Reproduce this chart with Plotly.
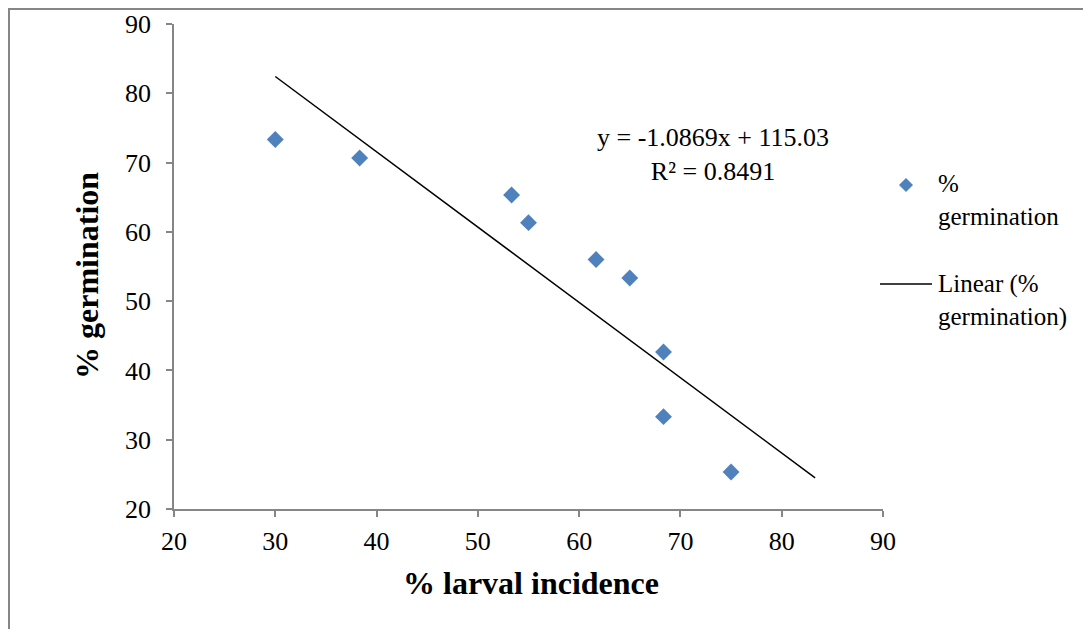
import plotly.graph_objects as go

larval_incidence = [30.0, 38.33, 53.33, 55.0, 61.67, 65.0, 68.33, 68.33, 75.0]
germination = [73.33, 70.67, 65.33, 61.33, 56.0, 53.33, 42.67, 33.33, 25.33]
slope = -1.0869
intercept = 115.03
trend_x = [30.0, 83.3]
trend_y = [slope * v + intercept for v in trend_x]
tick_vals = [20, 30, 40, 50, 60, 70, 80, 90]

OFF = 8  # page body margin
W, H = 1091 - 2 * OFF, 637 - 2 * OFF
L, R, T, B = 174 - OFF, 883 - OFF, 24 - OFF, 509 - OFF
pw, ph = R - L, B - T

def px(x):
    return (x - OFF - L) / pw

def py(y):
    return (B - (y - OFF)) / ph

FONT = "Liberation Serif"

fig = go.Figure()
fig.add_trace(go.Scatter(x=trend_x, y=trend_y, mode="lines",
                         line=dict(color="black", width=1.5), showlegend=False,
                         name="Linear (% germination)"))
fig.add_trace(go.Scatter(x=larval_incidence, y=germination, mode="markers",
                         marker=dict(symbol="diamond", size=13, color="#4F81BD"),
                         showlegend=False, name="% germination"))

axis_common = dict(showgrid=False, zeroline=False, showline=True, linecolor="#868686",
                   linewidth=1.5, ticks="outside", ticklen=6, tickcolor="#868686",
                   tickwidth=1.5, tickfont=dict(family=FONT, size=26, color="black"),
                   range=[20, 90], tickvals=tick_vals, automargin=False)
fig.update_xaxes(**axis_common, ticklabelstandoff=2)
fig.update_yaxes(**axis_common, ticklabelstandoff=10)

shapes = [
    dict(type="rect", xref="paper", yref="paper", x0=px(9), x1=px(1120), y0=py(680), y1=py(9),
         line=dict(color="#868686", width=2), fillcolor="rgba(0,0,0,0)"),
    dict(type="line", xref="paper", yref="paper", x0=px(880), x1=px(932), y0=py(284), y1=py(284),
         line=dict(color="black", width=1.5)),
    dict(type="path", xref="paper", yref="paper",
         path="M {a},{b} L {c},{d} L {a},{e} L {f},{d} Z".format(
             a=px(906), b=py(178), c=px(913), d=py(185), e=py(192), f=px(899)),
         fillcolor="#4F81BD", line=dict(color="#4F81BD", width=0)),
]

annotations = [
    dict(text="<b>% larval incidence</b>", xref="paper", yref="paper", x=px(531), y=py(583),
         showarrow=False, font=dict(family=FONT, size=32, color="black"),
         xanchor="center", yanchor="middle"),
    dict(text="<b>% germination</b>", xref="paper", yref="paper", x=px(87), y=py(276),
         showarrow=False, textangle=-90, font=dict(family=FONT, size=32, color="black"),
         xanchor="center", yanchor="middle"),
    dict(text="y = -1.0869x + 115.03<br>R² = 0.8491", xref="paper", yref="paper",
         x=px(713), y=py(154), showarrow=False, align="center",
         font=dict(family=FONT, size=26, color="black"), xanchor="center", yanchor="middle"),
    dict(text="%<br>germination", xref="paper", yref="paper", x=px(936), y=py(168),
         showarrow=False, align="left", font=dict(family=FONT, size=25, color="black"),
         xanchor="left", yanchor="top"),
    dict(text="Linear (%<br>germination)", xref="paper", yref="paper", x=px(936), y=py(268),
         showarrow=False, align="left", font=dict(family=FONT, size=25, color="black"),
         xanchor="left", yanchor="top"),
]

fig.update_layout(width=W, height=H, margin=dict(l=L, r=W - R, t=T, b=H - B),
                  plot_bgcolor="white", paper_bgcolor="white",
                  shapes=shapes, annotations=annotations, showlegend=False)
fig.write_html("out.html")
